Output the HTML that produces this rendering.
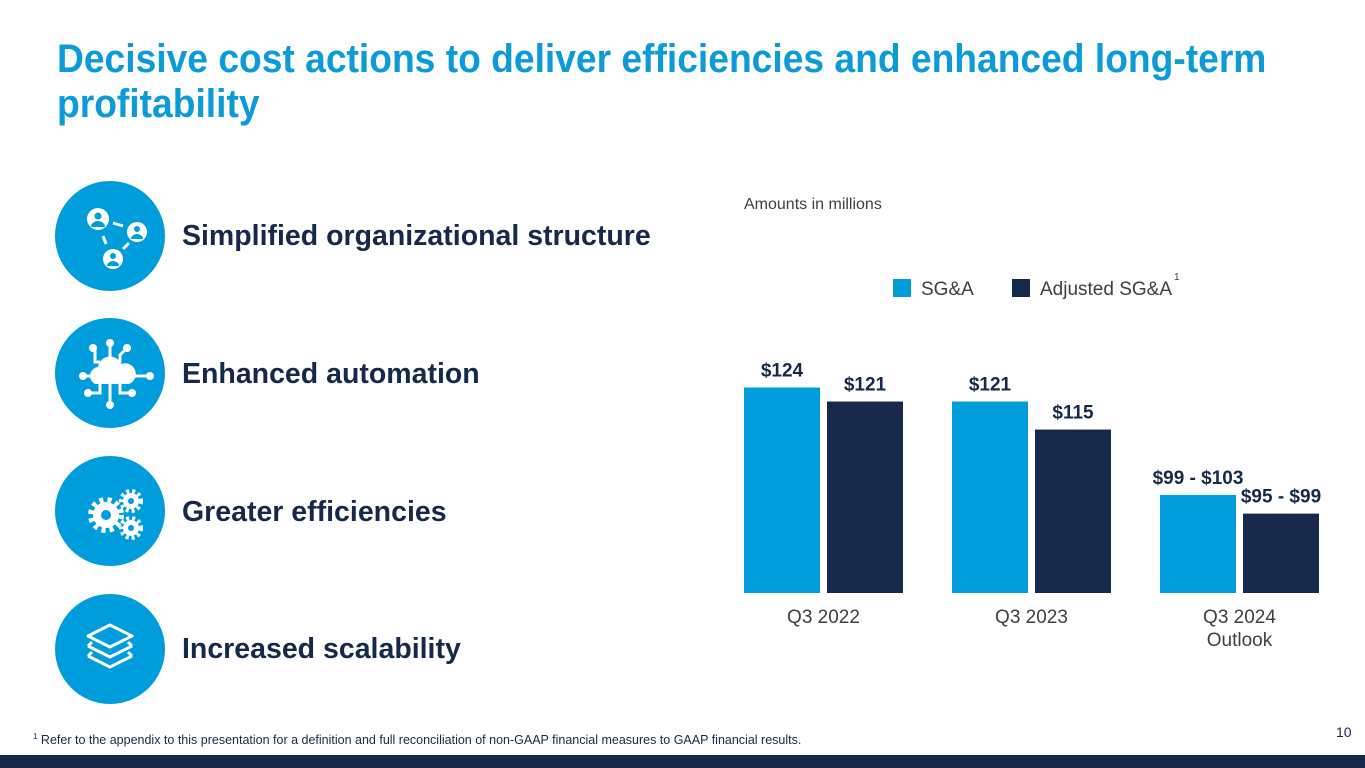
<!DOCTYPE html>
<html><head><meta charset="utf-8">
<style>
body{margin:0;width:1365px;height:768px;overflow:hidden;background:#fff;font-family:"Liberation Sans",sans-serif;position:relative}
.t{position:absolute;left:57px;top:37px;font-weight:bold;font-size:40px;line-height:45px;color:#0a9bd8;width:1400px;transform:scaleX(0.93);transform-origin:0 0}
.c{position:absolute;left:55px;width:110px;height:110px;border-radius:50%;background:#009ddc}
.c svg{width:110px;height:110px}
.lb{position:absolute;left:182px;font-size:28.5px;font-weight:bold;color:#17294a}
.foot{position:absolute;left:33px;top:732px;font-size:12.5px;color:#17294a}
.pg{position:absolute;left:1336px;top:724px;font-size:14px;color:#17294a}
.bar{position:absolute;left:0;top:755px;width:1365px;height:13px;background:#17294a}
</style></head><body>
<div class="t">Decisive cost actions to deliver efficiencies and enhanced long-term<br>profitability</div>

<div class="c" style="top:181px"><svg viewBox="0 0 110 110"><g fill="#fff"><circle cx="43" cy="38" r="11"/><circle cx="82" cy="51" r="10"/><circle cx="58" cy="78" r="10"/></g><g fill="#009ddc"><circle cx="43" cy="35" r="3.5"/><path d="M36 46a7 6 0 0 1 14 0z"/><circle cx="82" cy="48" r="3"/><path d="M76 58a6 5 0 0 1 12 0z"/><circle cx="58" cy="75" r="3"/><path d="M52 85a6 5 0 0 1 12 0z"/></g><g stroke="#fff" stroke-width="3"><line x1="58" y1="42" x2="68" y2="45"/><line x1="48" y1="55" x2="51" y2="63"/><line x1="74" y1="62" x2="68" y2="68"/></g></svg></div>
<div class="lb" style="top:220px">Simplified organizational structure</div>

<div class="c" style="top:318px"><svg viewBox="0 0 110 110"><g stroke="#fff" stroke-width="3" fill="none"><path d="M55 25v20M40 32v12h5M70 32l-5 5v8M30 58h12M80 58h15M45 65v10h-12M55 65v20M65 65v10h12"/></g><g fill="#fff"><circle cx="55" cy="25" r="4"/><circle cx="38" cy="30" r="4"/><circle cx="72" cy="30" r="4"/><circle cx="28" cy="58" r="4"/><circle cx="95" cy="58" r="4"/><circle cx="33" cy="75" r="4"/><circle cx="55" cy="87" r="4"/><circle cx="77" cy="75" r="4"/><path d="M40 66a9 9 0 0 1 3-17a12 12 0 0 1 23-3a9 9 0 0 1 8 20z"/></g></svg></div>
<div class="lb" style="top:358px">Enhanced automation</div>

<div class="c" style="top:456px"><svg viewBox="0 0 110 110"><g fill="#fff"><circle cx="51" cy="59" r="13"/><circle cx="76" cy="45" r="8"/><circle cx="76" cy="72" r="8"/></g><g stroke="#fff" stroke-width="6" stroke-dasharray="4 4"><circle cx="51" cy="59" r="15" fill="none"/></g><g stroke="#fff" stroke-width="4" stroke-dasharray="3 3" fill="none"><circle cx="76" cy="45" r="10"/><circle cx="76" cy="72" r="10"/></g><g fill="#009ddc"><circle cx="51" cy="59" r="5"/><circle cx="76" cy="45" r="3"/><circle cx="76" cy="72" r="3"/></g></svg></div>
<div class="lb" style="top:496px">Greater efficiencies</div>

<div class="c" style="top:594px"><svg viewBox="0 0 110 110"><g stroke="#fff" stroke-width="3" fill="none" stroke-linejoin="round"><path d="M33 42l22-11 22 11-22 11z"/><path d="M33 52l22 11 22-11"/><path d="M37 48l-4 4M73 48l4 4"/><path d="M33 62l22 11 22-11"/><path d="M37 58l-4 4M73 58l4 4"/></g></svg></div>
<div class="lb" style="top:633px">Increased scalability</div>

<svg id="chart" style="position:absolute;left:0;top:0" width="1365" height="768">
<text x="744" y="209" font-size="16" fill="#404040" font-family="Liberation Sans, sans-serif">Amounts in millions</text>
<rect x="893" y="279" width="18" height="18" fill="#009ddc"/>
<text x="921" y="295" font-size="19" fill="#404040" font-family="Liberation Sans, sans-serif">SG&amp;A</text>
<rect x="1012" y="279" width="18" height="18" fill="#17294a"/>
<text x="1040" y="295" font-size="19" fill="#404040" font-family="Liberation Sans, sans-serif">Adjusted SG&amp;A</text>
<text x="1174" y="280" font-size="10" fill="#404040" font-family="Liberation Sans, sans-serif">1</text>
<g id="bars"></g>
</svg>

<div class="foot"><sup style="font-size:8px">1</sup> Refer to the appendix to this presentation for a definition and full reconciliation of non-GAAP financial measures to GAAP financial results.</div>
<div class="pg">10</div>
<div class="bar"></div>

<script>
const categories = ["Q3 2022", "Q3 2023", "Q3 2024|Outlook"];
const sgaValues = [124, 121, 101];
const adjValues = [121, 115, 97];
const sgaLabels = ["$124", "$121", "$99 - $103"];
const adjLabels = ["$121", "$115", "$95 - $99"];

const baseY = 593, yMin = 80, pxPerUnit = 4.67;
const y = v => baseY - (v - yMin) * pxPerUnit;
const groupX = i => 744 + i * 208;
const barW = 76;
const NS = "http://www.w3.org/2000/svg";
const g = document.getElementById("bars");
function mk(tag, attrs, txt){const e=document.createElementNS(NS,tag);for(const k in attrs)e.setAttribute(k,attrs[k]);if(txt!==undefined)e.textContent=txt;g.appendChild(e);return e;}
categories.forEach((cat,i)=>{
  const x0 = groupX(i), x1 = x0 + 83;
  const b1 = mk("rect",{x:x0,y:y(sgaValues[i]),width:barW,height:baseY-y(sgaValues[i]),fill:"#009ddc"});
  
  
  const b2 = mk("rect",{x:x1,y:y(adjValues[i]),width:barW,height:baseY-y(adjValues[i]),fill:"#17294a"});
  
  
  const t1 = mk("text",{x:x0+barW/2,y:y(sgaValues[i])-11,"text-anchor":"middle","font-size":19,"font-weight":"bold",fill:"#17294a","font-family":"Liberation Sans, sans-serif"},sgaLabels[i]);
  
  
  const t2 = mk("text",{x:x1+barW/2,y:y(adjValues[i])-11,"text-anchor":"middle","font-size":19,"font-weight":"bold",fill:"#17294a","font-family":"Liberation Sans, sans-serif"},adjLabels[i]);
  
  
  cat.split("|").forEach((line,j)=>{
    const tl = mk("text",{x:x0+79.5,y:623+j*23,"text-anchor":"middle","font-size":19,fill:"#404040","font-family":"Liberation Sans, sans-serif"},line);
    
    
  });
});
</script>
</body></html>
